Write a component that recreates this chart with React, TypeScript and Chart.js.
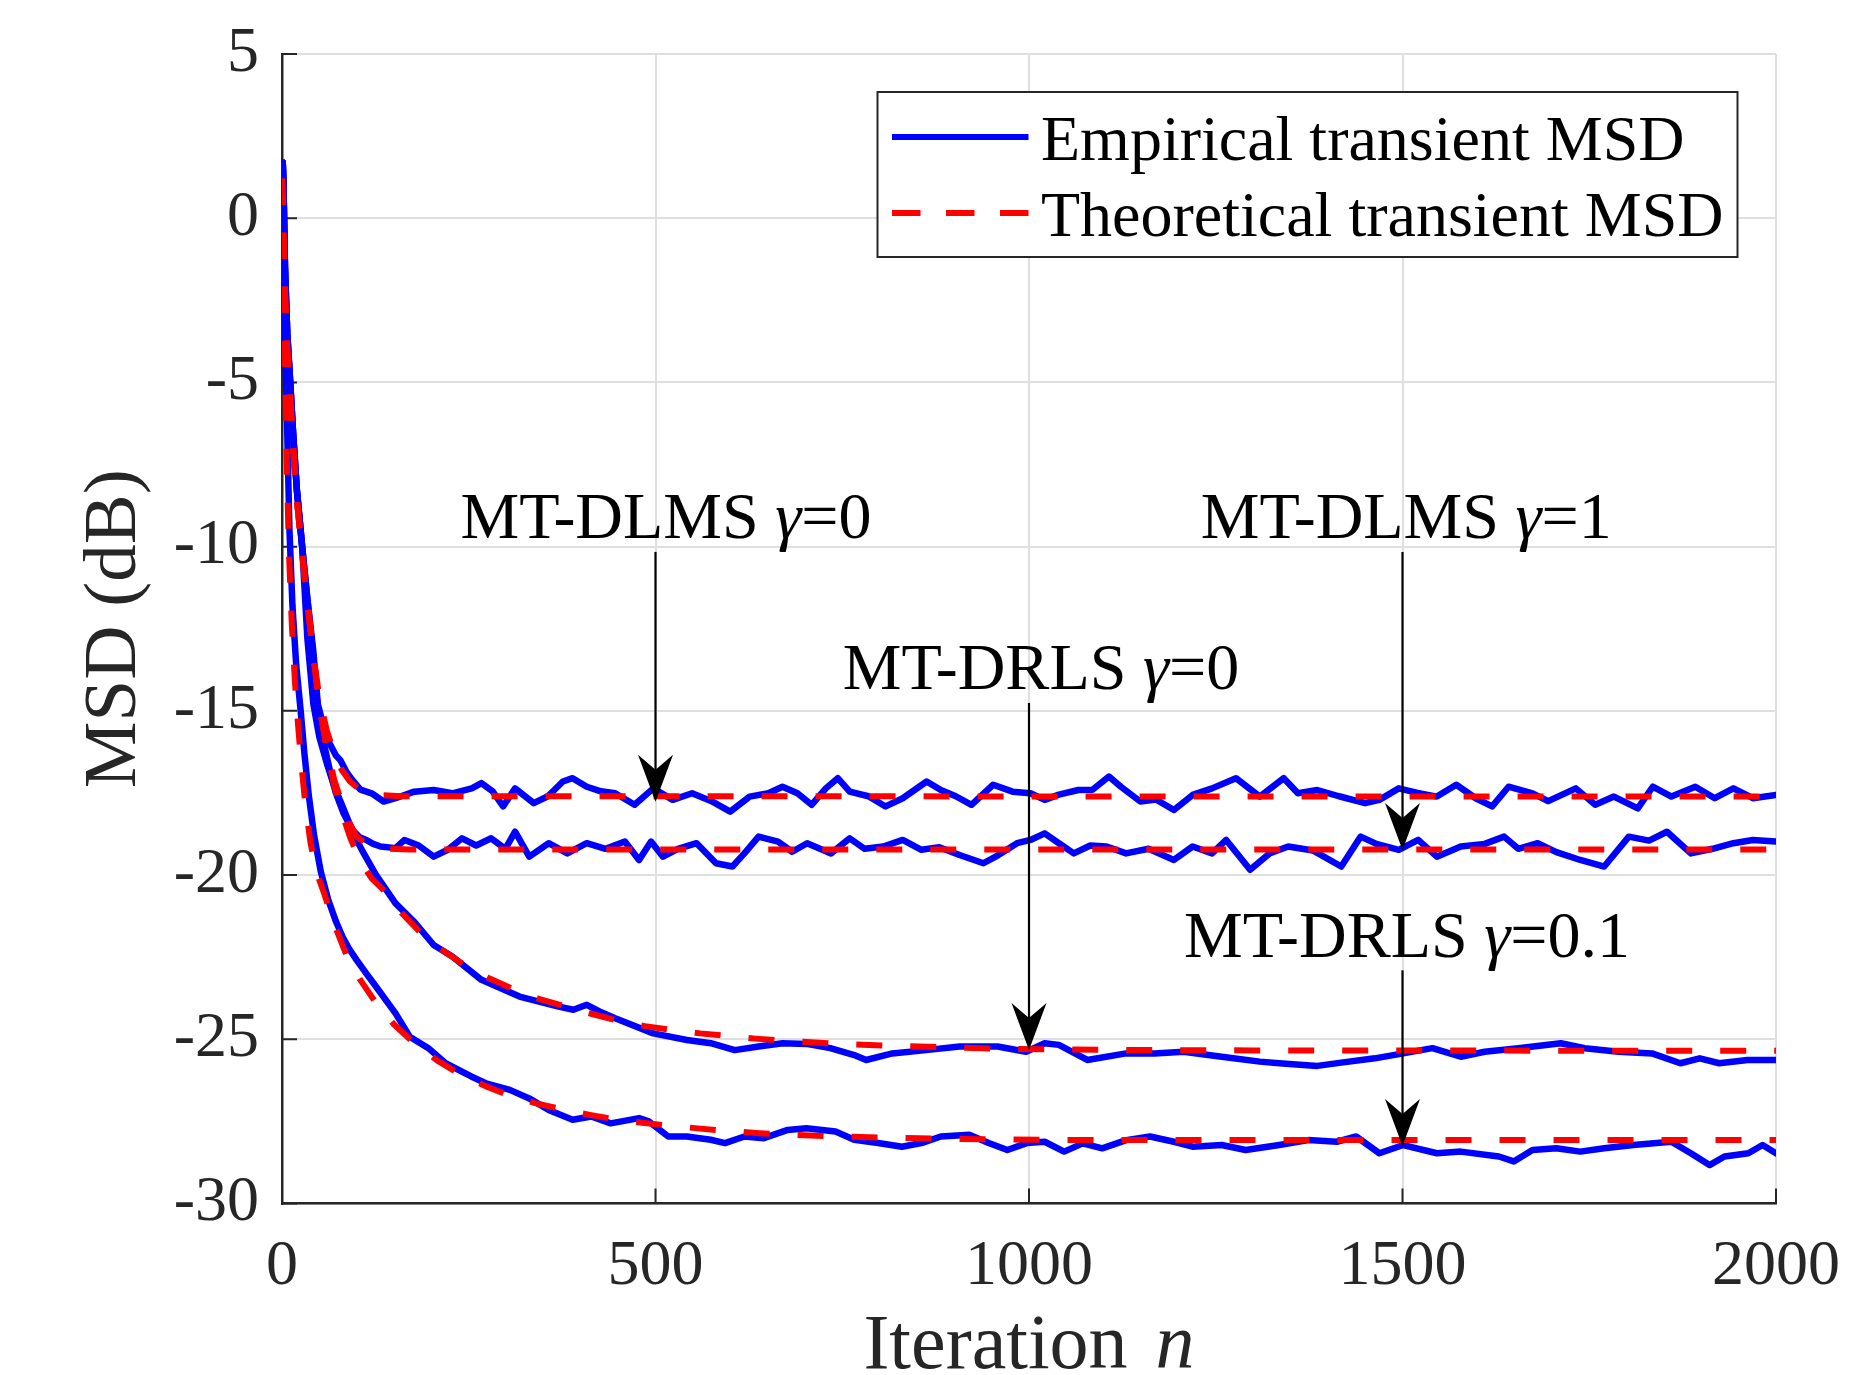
import React, { useEffect, useRef } from "react";
import { Chart, registerables } from "chart.js";

Chart.register(...registerables);

type Pt = [number, number];

// ---------------- data ----------------
const xTicks = [0, 500, 1000, 1500, 2000];
const yTicks = [-30, -25, -20, -15, -10, -5, 0, 5];
const legendLabels = ["Empirical transient MSD", "Theoretical transient MSD"];
const xTitle = "Iteration";
const xTitleVar = "n";
const yTitle = "MSD (dB)";

// Empirical (blue) curves
const empDLMSg0: Pt[] = [
  [0, 0.0], [1, 1.7], [2, 1.0], [4, -1.5], [7, -3.5], [11, -5.0], [15, -6.6], [20, -8.3], [27, -10.0],
  [34, -11.6], [42, -13.2], [48, -14.8], [56, -15.5], [64, -16.0], [72, -16.35], [78, -16.5], [86, -16.85],
  [94, -17.1], [105, -17.4], [120, -17.51], [136, -17.76], [152, -17.66], [177, -17.46], [203, -17.41],
  [228, -17.51], [254, -17.36], [267, -17.2], [282, -17.45], [296, -17.91], [312, -17.36], [337, -17.81],
  [356, -17.6], [376, -17.15], [389, -17.05], [408, -17.31], [427, -17.45], [446, -17.51], [472, -17.86],
  [497, -17.36], [523, -17.71], [549, -17.51], [575, -17.75], [600, -18.07], [626, -17.61], [651, -17.51],
  [670, -17.31], [690, -17.51], [709, -17.86], [728, -17.36], [744, -17.05], [760, -17.46], [785, -17.6],
  [808, -17.91], [831, -17.66], [863, -17.15], [882, -17.41], [902, -17.6], [923, -17.86], [952, -17.25],
  [978, -17.46], [1002, -17.51], [1021, -17.71], [1040, -17.55], [1066, -17.41], [1085, -17.4], [1107, -17.0],
  [1123, -17.31], [1149, -17.76], [1170, -17.7], [1194, -18.02], [1219, -17.56], [1245, -17.36], [1277, -17.05],
  [1309, -17.61], [1341, -17.05], [1360, -17.51], [1386, -17.41], [1415, -17.6], [1450, -17.81], [1469, -17.71],
  [1495, -17.36], [1520, -17.5], [1546, -17.61], [1572, -17.25], [1598, -17.66], [1620, -17.91], [1642, -17.31],
  [1674, -17.51], [1695, -17.75], [1732, -17.36], [1758, -17.86], [1783, -17.61], [1815, -17.97], [1835, -17.31],
  [1860, -17.61], [1892, -17.31], [1918, -17.66], [1943, -17.36], [1969, -17.66], [2000, -17.56],
];

const empDLMSg1: Pt[] = [
  [0, 0.0], [1, 1.7], [2, 1.0], [4, -1.5], [7, -3.5], [11, -5.0], [15, -6.6], [20, -8.3], [27, -10.0],
  [34, -11.6], [42, -13.4], [48, -15.0], [56, -16.0], [64, -16.8], [72, -17.5], [82, -18.1], [94, -18.62],
  [104, -18.85], [113, -18.93], [122, -19.05], [132, -19.13], [152, -19.18], [164, -18.93], [183, -19.1],
  [203, -19.44], [222, -19.23], [241, -18.88], [260, -19.1], [280, -18.88], [299, -19.2], [312, -18.68],
  [331, -19.44], [357, -19.03], [382, -19.34], [408, -19.03], [433, -19.2], [459, -18.98], [478, -19.54],
  [494, -18.98], [510, -19.44], [530, -19.2], [555, -19.03], [581, -19.64], [603, -19.74], [619, -19.34],
  [638, -18.83], [664, -18.98], [683, -19.29], [703, -19.03], [735, -19.34], [760, -18.88], [780, -19.2],
  [805, -19.13], [831, -18.93], [856, -19.23], [880, -19.15], [907, -19.39], [939, -19.64], [959, -19.39],
  [984, -19.03], [1002, -18.93], [1021, -18.73], [1040, -19.03], [1060, -19.34], [1082, -19.1], [1104, -19.13],
  [1130, -19.34], [1160, -19.2], [1194, -19.54], [1219, -19.13], [1245, -19.34], [1264, -18.93], [1296, -19.84],
  [1322, -19.34], [1347, -19.13], [1380, -19.25], [1418, -19.74], [1444, -18.83], [1465, -19.05], [1495, -19.23],
  [1521, -18.93], [1546, -19.44], [1578, -19.13], [1610, -19.05], [1636, -18.83], [1655, -19.2], [1681, -19.03],
  [1706, -19.3], [1738, -19.54], [1770, -19.74], [1803, -18.83], [1830, -18.95], [1854, -18.68], [1886, -19.34],
  [1915, -19.2], [1943, -19.03], [1969, -18.93], [2000, -18.98],
];

const empDRLSg0: Pt[] = [
  [0, 0.0], [1, 1.7], [2, 1.0], [4, -1.5], [7, -3.5], [11, -5.0], [15, -6.6], [20, -8.3], [27, -10.0],
  [34, -12.8], [42, -14.8], [50, -15.8], [60, -16.6], [70, -17.3], [80, -17.85], [88, -18.3], [98, -18.85],
  [107, -19.24], [126, -20.0], [152, -20.86], [177, -21.42], [203, -22.13], [228, -22.48], [267, -23.19],
  [318, -23.7], [369, -24.0], [390, -24.1], [408, -23.95], [425, -24.15], [446, -24.36], [497, -24.82],
  [542, -25.02], [574, -25.12], [606, -25.33], [638, -25.22], [670, -25.12], [702, -25.14], [734, -25.27],
  [766, -25.48], [782, -25.63], [817, -25.43], [862, -25.33], [907, -25.22], [958, -25.22], [996, -25.38],
  [1021, -25.12], [1040, -25.17], [1078, -25.63], [1130, -25.43], [1168, -25.43], [1207, -25.38], [1258, -25.53],
  [1309, -25.68], [1335, -25.73], [1386, -25.81], [1418, -25.71], [1463, -25.58], [1501, -25.43], [1540, -25.27],
  [1578, -25.53], [1610, -25.38], [1655, -25.27], [1712, -25.12], [1744, -25.27], [1789, -25.38], [1834, -25.43],
  [1872, -25.73], [1898, -25.58], [1924, -25.73], [1962, -25.63], [2000, -25.63],
];

const empDRLSg01: Pt[] = [
  [0, 0.0], [1, 1.7], [2, 0.8], [3, -1.5], [5, -4.5], [7, -6.5], [10, -9.5], [14, -11.8], [19, -13.6],
  [25, -15.0], [30, -16.3], [36, -17.6], [43, -18.8], [52, -19.9], [62, -20.76], [72, -21.4], [81, -21.88],
  [90, -22.25], [100, -22.59], [113, -23.0], [126, -23.4], [152, -24.21], [171, -24.92], [196, -25.27],
  [219, -25.73], [254, -26.14], [273, -26.34], [305, -26.54], [331, -26.8], [357, -27.15], [389, -27.45],
  [414, -27.35], [440, -27.56], [478, -27.4], [491, -27.5], [517, -27.96], [542, -27.96], [574, -28.06],
  [593, -28.16], [619, -27.96], [645, -28.01], [677, -27.76], [702, -27.71], [741, -27.81], [766, -28.06],
  [798, -28.16], [830, -28.27], [856, -28.16], [882, -27.96], [920, -27.91], [946, -28.16], [971, -28.37],
  [997, -28.16], [1021, -28.12], [1047, -28.42], [1072, -28.17], [1098, -28.32], [1130, -28.07], [1162, -27.96],
  [1194, -28.12], [1219, -28.27], [1258, -28.22], [1290, -28.37], [1335, -28.22], [1374, -28.07], [1412, -28.12],
  [1438, -27.96], [1469, -28.47], [1501, -28.22], [1546, -28.47], [1578, -28.42], [1629, -28.57], [1649, -28.72],
  [1674, -28.37], [1706, -28.32], [1738, -28.42], [1770, -28.32], [1809, -28.22], [1860, -28.12], [1886, -28.47],
  [1911, -28.83], [1931, -28.57], [1963, -28.47], [1982, -28.22], [2000, -28.47],
];

// Theoretical (red dashed) curves
const theoDLMSg0: Pt[] = [
  [0, 1.2], [2, -0.5], [4, -2.3], [7, -4.0], [11, -5.5], [15, -7.0], [20, -8.6], [27, -10.2], [34, -11.7],
  [42, -13.3], [50, -14.6], [60, -15.6], [70, -16.3], [80, -16.8], [91, -17.15], [104, -17.4], [117, -17.5],
  [135, -17.57], [160, -17.6], [2000, -17.61],
];

const theoDLMSg1: Pt[] = [
  [0, 1.2], [2, -0.5], [4, -2.3], [7, -4.0], [11, -5.5], [15, -7.0], [20, -8.6], [27, -10.2], [34, -11.7],
  [42, -13.3], [50, -14.9], [60, -16.1], [70, -17.1], [80, -17.8], [90, -18.4], [100, -18.83], [113, -19.05],
  [126, -19.15], [145, -19.2], [170, -19.22], [2000, -19.22],
];

const theoDRLSg0: Pt[] = [
  [0, 1.2], [2, -0.5], [4, -2.3], [7, -4.0], [11, -5.5], [15, -7.0], [20, -8.6], [27, -10.2], [34, -11.7],
  [42, -13.3], [50, -14.8], [60, -16.2], [70, -17.3], [80, -18.1], [92, -18.9], [105, -19.6], [120, -20.1],
  [136, -20.46], [160, -21.15], [184, -21.72], [212, -22.25], [244, -22.74], [278, -23.15], [312, -23.5],
  [345, -23.78], [379, -24.0], [415, -24.23], [449, -24.43], [486, -24.6], [523, -24.72], [560, -24.82],
  [597, -24.9], [634, -24.98], [670, -25.04], [744, -25.14], [817, -25.2], [891, -25.24], [965, -25.29],
  [1100, -25.32], [1300, -25.34], [2000, -25.35],
];

const theoDRLSg01: Pt[] = [
  [0, 1.2], [2, -1.5], [4, -4.5], [6, -7.0], [9, -10.0], [13, -12.3], [17, -14.0], [20, -15.0], [25, -16.4],
  [31, -17.8], [38, -19.0], [46, -19.9], [57, -20.6], [70, -21.5], [87, -22.48], [105, -23.2], [126, -23.9],
  [150, -24.55], [177, -25.12], [208, -25.65], [241, -26.1], [275, -26.45], [305, -26.72], [340, -26.95],
  [379, -27.15], [412, -27.3], [449, -27.45], [485, -27.55], [523, -27.64], [560, -27.72], [597, -27.79],
  [634, -27.85], [670, -27.9], [744, -27.96], [817, -28.0], [891, -28.03], [965, -28.05], [1100, -28.07],
  [2000, -28.07],
];

const empiricalSeries = [empDLMSg0, empDLMSg1, empDRLSg0, empDRLSg01];
const theoreticalSeries = [theoDLMSg0, theoDLMSg1, theoDRLSg0, theoDRLSg01];

// Annotation labels (text centre / baseline and arrow in data units)
const annotations = [
  { name: "MT-DLMS", gamma: "0", textX: 514, textY: -9.74, arrowX: 500, fromY: -10.16, toY: -17.77 },
  { name: "MT-DLMS", gamma: "1", textX: 1505, textY: -9.74, arrowX: 1500, fromY: -10.16, toY: -19.24 },
  { name: "MT-DRLS", gamma: "0", textX: 1016, textY: -14.33, arrowX: 1000, fromY: -14.76, toY: -25.33 },
  { name: "MT-DRLS", gamma: "0.1", textX: 1506, textY: -22.49, arrowX: 1500, fromY: -22.9, toY: -28.25 },
];

// ---------------- styles ----------------
const FAMILY = "Liberation Serif";
const FONT = '"Liberation Serif", "Times New Roman", serif';
const AXIS = "#262626";
const GRID = "#dfdfdf";
const BLUE = "#0000ff";
const RED = "#ff0000";
const W = 1854;
const H = 1375;
const ANN_SIZE = 66;

const toXY = (pts: Pt[]) => pts.map(([x, y]) => ({ x, y }));

const overlay = {
  id: "overlay",
  beforeDatasetsDraw(chart: any) {
    const { ctx, chartArea: a, scales } = chart;
    const xs = scales.x;
    const ys = scales.y;
    ctx.save();
    ctx.strokeStyle = AXIS;
    ctx.lineWidth = 2;
    ctx.beginPath();
    for (const v of yTicks) {
      const py = ys.getPixelForValue(v);
      ctx.moveTo(a.left, py);
      ctx.lineTo(a.left + 15, py);
    }
    for (const v of xTicks) {
      const px = xs.getPixelForValue(v);
      ctx.moveTo(px, a.bottom);
      ctx.lineTo(px, a.bottom - 15);
    }
    ctx.stroke();
    ctx.restore();
  },
  afterDraw(chart: any) {
    const { ctx, chartArea: a, scales } = chart;
    const xs = scales.x;
    const ys = scales.y;
    ctx.save();

    // axis titles
    ctx.fillStyle = AXIS;
    ctx.textBaseline = "alphabetic";
    ctx.textAlign = "left";
    ctx.font = `78px ${FONT}`;
    const w1 = ctx.measureText(xTitle).width;
    ctx.font = `italic 78px ${FONT}`;
    const w2 = ctx.measureText(xTitleVar).width;
    const gap = 28;
    const cx = (a.left + a.right) / 2;
    const sx = cx - (w1 + gap + w2) / 2;
    ctx.font = `78px ${FONT}`;
    ctx.fillText(xTitle, sx, 1368);
    ctx.font = `italic 78px ${FONT}`;
    ctx.fillText(xTitleVar, sx + w1 + gap, 1368);

    ctx.save();
    ctx.translate(135, (a.top + a.bottom) / 2);
    ctx.rotate(-Math.PI / 2);
    ctx.textAlign = "center";
    ctx.font = `75px ${FONT}`;
    ctx.fillText(yTitle, 0, 0);
    ctx.restore();

    // annotations
    ctx.fillStyle = "#000";
    ctx.strokeStyle = "#000";
    for (const an of annotations) {
      const parts = [
        { t: an.name + " ", it: false },
        { t: "\u03b3", it: true },
        { t: "=" + an.gamma, it: false },
      ];
      const widths = parts.map((p) => {
        ctx.font = `${p.it ? "italic " : ""}${ANN_SIZE}px ${FONT}`;
        return ctx.measureText(p.t).width;
      });
      const total = widths.reduce((s, v) => s + v, 0);
      let x = xs.getPixelForValue(an.textX) - total / 2;
      const by = ys.getPixelForValue(an.textY);
      ctx.textAlign = "left";
      parts.forEach((p, i) => {
        ctx.font = `${p.it ? "italic " : ""}${ANN_SIZE}px ${FONT}`;
        ctx.fillText(p.t, x, by);
        x += widths[i];
      });
      const ax = xs.getPixelForValue(an.arrowX);
      const y0 = ys.getPixelForValue(an.fromY);
      const tip = ys.getPixelForValue(an.toY);
      ctx.lineWidth = 2.2;
      ctx.beginPath();
      ctx.moveTo(ax, y0);
      ctx.lineTo(ax, tip - 30);
      ctx.stroke();
      ctx.beginPath();
      ctx.moveTo(ax, tip);
      ctx.lineTo(ax - 17.5, tip - 47);
      ctx.lineTo(ax, tip - 32);
      ctx.lineTo(ax + 17.5, tip - 47);
      ctx.closePath();
      ctx.fill();
    }

    // legend
    const lx = 877.5, ly = 92, lw = 860, lh = 165;
    ctx.fillStyle = "#fff";
    ctx.fillRect(lx, ly, lw, lh);
    ctx.strokeStyle = AXIS;
    ctx.lineWidth = 2;
    ctx.strokeRect(lx, ly, lw, lh);
    ctx.lineWidth = 6;
    ctx.lineCap = "butt";
    ctx.strokeStyle = BLUE;
    ctx.setLineDash([]);
    ctx.beginPath();
    ctx.moveTo(892, 137);
    ctx.lineTo(1028.5, 137);
    ctx.stroke();
    ctx.strokeStyle = RED;
    ctx.setLineDash([28.5, 25.5]);
    ctx.beginPath();
    ctx.moveTo(892, 213);
    ctx.lineTo(1028.5, 213);
    ctx.stroke();
    ctx.setLineDash([]);
    ctx.fillStyle = "#000";
    ctx.font = `64px ${FONT}`;
    ctx.textAlign = "left";
    ctx.fillText(legendLabels[0], 1041, 160);
    ctx.fillText(legendLabels[1], 1041, 236);

    ctx.restore();
  },
};

const zeroPad = (s: any) => {
  s.paddingLeft = 0;
  s.paddingRight = 0;
  s.paddingTop = 0;
  s.paddingBottom = 0;
};

export default function App() {
  const ref = useRef<HTMLCanvasElement | null>(null);

  useEffect(() => {
    document.body.style.margin = "0";
    const canvas = ref.current;
    if (!canvas) return;
    let chart: Chart | null = null;
    let cancelled = false;

    const build = () => {
      if (cancelled) return;
      const theoSets = theoreticalSeries.map((s) => ({
        data: toXY(s),
        borderColor: RED,
        backgroundColor: RED,
        borderWidth: 6,
        borderDash: [26, 28],
        borderCapStyle: "butt",
        borderJoinStyle: "round",
        pointRadius: 0,
        fill: false,
        tension: 0,
      }));
      const empSets = empiricalSeries.map((s) => ({
        data: toXY(s),
        borderColor: BLUE,
        backgroundColor: BLUE,
        borderWidth: 6.5,
        borderCapStyle: "round",
        borderJoinStyle: "round",
        pointRadius: 0,
        fill: false,
        tension: 0,
      }));

      const tickFont = { family: FONT, size: 64 };

      chart = new Chart(canvas, {
        type: "line",
        data: { datasets: [...theoSets, ...empSets] as any },
        options: {
          animation: false,
          responsive: false,
          maintainAspectRatio: false,
          devicePixelRatio: 1,
          events: [],
          layout: { padding: { left: 0, top: 54, right: 78, bottom: 0 } },
          plugins: {
            legend: { display: false },
            tooltip: { enabled: false },
            title: { display: false },
          },
          scales: {
            x: {
              type: "linear",
              min: 0,
              max: 2000,
              afterFit: (s: any) => {
                s.height = 171.5;
                zeroPad(s);
              },
              ticks: {
                stepSize: 500,
                padding: 25,
                color: AXIS,
                font: tickFont,
                maxRotation: 0,
                autoSkip: false,
                callback: (v: any) => String(v),
              },
              grid: { color: GRID, lineWidth: 2, drawTicks: false },
              border: { color: AXIS, width: 2.5 },
            },
            y: {
              type: "linear",
              min: -30,
              max: 5,
              afterFit: (s: any) => {
                s.width = 282;
                zeroPad(s);
              },
              ticks: {
                stepSize: 5,
                padding: 23,
                color: AXIS,
                font: tickFont,
                autoSkip: false,
                callback: (v: any) => String(v),
              },
              grid: { color: GRID, lineWidth: 2, drawTicks: false },
              border: { color: AXIS, width: 2.5 },
            },
          },
        } as any,
        plugins: [overlay as any],
      });
    };

    const fontsApi = (document as any).fonts;
    if (fontsApi && fontsApi.load) {
      Promise.all([
        fontsApi.load(`64px "${FAMILY}"`),
        fontsApi.load(`italic 64px "${FAMILY}"`),
      ])
        .catch(() => null)
        .then(() => build());
    } else {
      build();
    }

    return () => {
      cancelled = true;
      if (chart) chart.destroy();
    };
  }, []);

  return (
    <canvas
      ref={ref}
      width={W}
      height={H}
      style={{ position: "absolute", left: 0, top: 0, width: W + "px", height: H + "px", display: "block", background: "#fff" }}
    />
  );
}
